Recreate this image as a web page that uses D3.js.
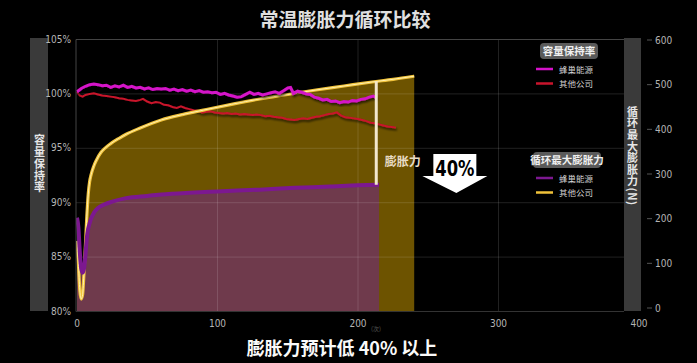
<!DOCTYPE html>
<html><head><meta charset="utf-8">
<script src="https://cdn.jsdelivr.net/npm/d3@7"></script>
<style>
html,body{margin:0;padding:0;background:#000;}
svg{display:block;}
.tick-l{font-family:"Liberation Sans Narrow","DejaVu Sans Condensed",sans-serif;font-size:10px;fill:#b5b5b5;}
.cjk{font-family:"Noto Sans CJK SC","Noto Sans",sans-serif;}
.vert{writing-mode:vertical-rl;}
</style></head>
<body>
<script>
// ---------------- DATA ----------------
const xTicks = [0, 100, 200, 300, 400];
const leftTicks = [80, 85, 90, 95, 100, 105];
const rightTicks = [0, 100, 200, 300, 400, 500, 600];
const seriesNames = ["蜂巢能源", "其他公司"];

// Capacity retention (%) – 蜂巢能源
const retCyclesA = [0,3,6,9,12,15,18,21,24,27,30,33,36,39,42,45,48,51,54,57,60,63,66,69,72,75,78,81,84,87,90,93,96,99,102,105,108,111,114,117,120,123,126,129,132,135,138,141,144,147,150,152,154,157,160,163,166,169,172,175,178,181,184,187,190,193,196,199,202,205,208,211,213];
const retA = [100.2,100.5,100.7,100.85,100.9,100.85,100.75,100.8,100.6,100.75,100.65,100.8,100.6,100.7,100.55,100.6,100.45,100.55,100.4,100.5,100.45,100.5,100.35,100.45,100.3,100.4,100.25,100.35,100.2,100.3,100.15,100.2,100.1,100.15,99.95,100.05,99.9,99.8,99.7,99.75,99.95,100.15,99.95,100.05,99.9,100.0,100.1,100.2,100.05,100.3,100.55,100.6,100.05,100.25,100.15,100.0,99.95,99.7,99.6,99.45,99.5,99.3,99.35,99.2,99.3,99.25,99.4,99.35,99.5,99.55,99.7,99.8,99.65];

// Capacity retention (%) – 其他公司
const retCyclesB = [0,2,4,6,9,12,15,18,21,24,27,30,33,36,39,42,45,47,50,53,56,59,62,65,68,71,74,77,80,83,86,89,92,95,98,101,104,107,110,113,116,119,122,125,128,131,134,137,140,143,146,149,152,155,158,161,164,167,170,173,176,179,182,185,188,191,194,197,200,203,206,209,212,215,218,221,224,227];
const retB = [100.2,99.85,99.75,99.9,100.0,100.05,99.95,99.85,99.8,99.75,99.7,99.6,99.55,99.45,99.4,99.35,99.45,99.55,99.3,99.15,99.25,99.2,99.0,98.95,98.8,98.7,98.85,98.7,98.6,98.5,98.45,98.3,98.35,98.4,98.3,98.25,98.2,98.25,98.15,98.2,98.1,98.15,98.1,98.05,98.1,98.05,97.95,98.0,97.9,97.85,97.8,97.7,97.65,97.6,97.7,97.75,97.7,97.8,97.9,97.95,98.05,98.15,98.2,98.3,98.0,97.85,97.8,97.75,97.7,97.6,97.5,97.35,97.3,97.2,97.1,97.0,96.95,96.9];

// Max swelling force (N) – 蜂巢能源
const forceCyclesA = [0,1,2,3,4,5,6,7,8,9,10,12,15,19,25,35,50,60,80,100,130,155,180,200,215];
const forceA = [202,180,125,88,79,88,118,158,178,190,200,213,224,231,238,246,251,254,258,261,265,269,272,275,276];

// Max swelling force (N) – 其他公司
const forceCyclesB = [0,1,2,3,4,5,6,7,8,9,10,12,14,17,20,24,30,35,45,60,75,90,110,130,150,170,190,210,225,240];
const forceB = [150,100,40,20,30,80,140,205,255,283,298,318,332,348,358,368,380,389,403,421,433,443,456,468,478,488,497,506,512,519];

// annotation
const markCycle = 213, markTop = 507, markBottom = 276;
const arrowLabel = "40%";

// ---------------- CHART ----------------
const W = 697, H = 363;
const L = 76, R = 624, T = 39.5, B = 311.5;
const svg = d3.select("body").append("svg").attr("width", W).attr("height", H);
svg.append("rect").attr("width", W).attr("height", H).attr("fill", "#000");

const x = d3.scaleLinear().domain([0, 400]).range([77, 639]);
const yL = d3.scaleLinear().domain([80, 105]).range([B, T]);
const yR = d3.scaleLinear().domain([0, 600]).range([308, 40]);

const defs = svg.append("defs");
defs.append("clipPath").attr("id", "plot").append("rect")
  .attr("x", L).attr("y", T).attr("width", R - L).attr("height", B - T);
const g1 = defs.append("linearGradient").attr("id", "lg1");
g1.append("stop").attr("offset", "0").attr("stop-color", "#888").attr("stop-opacity", 0);
g1.append("stop").attr("offset", "0.3").attr("stop-color", "#aaa").attr("stop-opacity", 0.9);
g1.append("stop").attr("offset", "1").attr("stop-color", "#ddd").attr("stop-opacity", 1);
const g2 = defs.append("linearGradient").attr("id", "lg2");
g2.append("stop").attr("offset", "0").attr("stop-color", "#ddd").attr("stop-opacity", 1);
g2.append("stop").attr("offset", "0.7").attr("stop-color", "#aaa").attr("stop-opacity", 0.9);
g2.append("stop").attr("offset", "1").attr("stop-color", "#888").attr("stop-opacity", 0);
const sh = defs.append("filter").attr("id", "shadow").attr("x", "-5%").attr("y", "-20%").attr("width", "110%").attr("height", "140%");
sh.append("feDropShadow").attr("dx", 1).attr("dy", 2).attr("stdDeviation", 1).attr("flood-color", "#000").attr("flood-opacity", 0.7);

// title
svg.append("line").attr("x1", 38).attr("x2", 247).attr("y1", 20).attr("y2", 20)
  .attr("stroke", "url(#lg1)").attr("stroke-width", 3);
svg.append("line").attr("x1", 442).attr("x2", 655).attr("y1", 20).attr("y2", 20)
  .attr("stroke", "url(#lg2)").attr("stroke-width", 3);
svg.append("text").attr("class", "cjk").attr("x", 345).attr("y", 27)
  .attr("text-anchor", "middle").attr("font-size", 19).attr("font-weight", 700)
  .attr("fill", "#e0e0e0").text("常温膨胀力循环比较");

// plot group
const p = svg.append("g").attr("clip-path", "url(#plot)");

const areaB = d3.area().x((d, i) => x(forceCyclesB[i])).y0(B).y1(d => yR(d)).curve(d3.curveMonotoneX);
const areaA = d3.area().x((d, i) => x(forceCyclesA[i])).y0(B).y1(d => yR(d)).curve(d3.curveMonotoneX);
p.append("path").datum(forceB).attr("d", areaB).attr("fill", "#6d5300");
p.append("path").datum(forceA).attr("d", areaA).attr("fill", "#6f3a4c");

// grid
const grid = p.append("g").attr("stroke", "#fff").attr("stroke-opacity", 0.13).attr("stroke-width", 1);
[85, 90, 95, 100].forEach(v => grid.append("line").attr("x1", L).attr("x2", R).attr("y1", yL(v)).attr("y2", yL(v)));
[100, 200, 300].forEach(v => grid.append("line").attr("x1", x(v)).attr("x2", x(v)).attr("y1", T).attr("y2", B));

// lines
const lineRB = d3.line().x((d, i) => x(retCyclesB[i])).y(d => yL(d));
const lineRA = d3.line().x((d, i) => x(retCyclesA[i])).y(d => yL(d));
const lineFA = d3.line().x((d, i) => x(forceCyclesA[i])).y(d => yR(d)).curve(d3.curveMonotoneX);
const lineFB = d3.line().x((d, i) => x(forceCyclesB[i])).y(d => yR(d)).curve(d3.curveMonotoneX);

p.append("path").datum(retB).attr("d", lineRB).attr("fill", "none")
  .attr("stroke", "#c8142c").attr("stroke-width", 2).attr("filter", "url(#shadow)");
p.append("path").datum(forceB).attr("d", lineFB).attr("fill", "none")
  .attr("stroke", "#f0c23a").attr("stroke-width", 3.2);
p.append("path").datum(forceB).attr("d", lineFB).attr("fill", "none")
  .attr("stroke", "#fff0b0").attr("stroke-width", 1);
p.append("path").datum(forceA).attr("d", lineFA).attr("fill", "none")
  .attr("stroke", "#7c1890").attr("stroke-width", 4);
p.append("path").datum(retA).attr("d", lineRA).attr("fill", "none")
  .attr("stroke", "#d412c8").attr("stroke-width", 3).attr("filter", "url(#shadow)");

// marker line
p.append("line").attr("x1", x(markCycle)).attr("x2", x(markCycle))
  .attr("y1", yR(markTop)).attr("y2", yR(markBottom))
  .attr("stroke", "#f2e6cc").attr("stroke-width", 3);

// borders
svg.append("line").attr("x1", L).attr("x2", R).attr("y1", T).attr("y2", T).attr("stroke", "#444");
svg.append("line").attr("x1", L).attr("x2", R).attr("y1", B).attr("y2", B).attr("stroke", "#333");
svg.append("line").attr("x1", L).attr("x2", L).attr("y1", T).attr("y2", B).attr("stroke", "#444");

// side bands
svg.append("rect").attr("x", 30).attr("y", 38).attr("width", 18).attr("height", 273).attr("fill", "#3a3a3a");
svg.append("rect").attr("x", 624).attr("y", 38).attr("width", 17).attr("height", 273).attr("fill", "#3a3a3a");

// axis tick labels
svg.selectAll(".tl").data(leftTicks).enter().append("text").attr("class", "tick-l")
  .attr("x", 71).attr("y", d => yL(d) + 3).attr("text-anchor", "end")
  .attr("font-size", 9.5).text(d => d + "%");
svg.selectAll(".tr").data(rightTicks).enter().append("text").attr("class", "tick-l")
  .attr("x", 655).attr("y", d => yR(d) + 3.5).attr("text-anchor", "start").text(d => d);
svg.selectAll(".trm").data(rightTicks).enter().append("line")
  .attr("x1", 647).attr("x2", 652).attr("y1", d => yR(d)).attr("y2", d => yR(d))
  .attr("stroke", "#555");
svg.selectAll(".tb").data(xTicks).enter().append("text").attr("class", "tick-l")
  .attr("x", d => x(d)).attr("y", 327).attr("text-anchor", "middle").text(d => d);

// vertical axis titles (single vertical text each)
svg.append("text").attr("class", "cjk vert")
  .attr("x", 39.5).attr("y", 164).attr("text-anchor", "middle")
  .attr("font-size", 11).attr("font-weight", 700).attr("letter-spacing", 0.8)
  .attr("fill", "#e6e6e6").text("容量保持率");
svg.append("text").attr("class", "cjk vert")
  .attr("x", 632.5).attr("y", 156).attr("text-anchor", "middle")
  .attr("font-size", 11).attr("font-weight", 700).attr("letter-spacing", 0.6)
  .attr("fill", "#e6e6e6").text("循环最大膨胀力(N)");

// legends
function legend(title, bx, by, bw, colors) {
  svg.append("rect").attr("x", bx).attr("y", by).attr("width", bw).attr("height", 16)
    .attr("rx", 4).attr("fill", "#5a5a5a");
  svg.append("text").attr("class", "cjk").attr("x", bx + bw / 2).attr("y", by + 12)
    .attr("text-anchor", "middle").attr("font-size", 10.5).attr("font-weight", 700)
    .attr("fill", "#f0f0f0").text(title);
  colors.forEach((c, i) => {
    const yy = by + 26 + i * 14.5;
    svg.append("line").attr("x1", 536).attr("x2", 553).attr("y1", yy).attr("y2", yy)
      .attr("stroke", c).attr("stroke-width", 2.5);
    svg.append("text").attr("class", "cjk").attr("x", 559).attr("y", yy + 3.5)
      .attr("font-size", 8.5).attr("fill", "#cfcfcf").text(seriesNames[i]);
  });
}
legend("容量保持率", 540, 43, 58, ["#d412c8", "#c8142c"]);
legend("循环最大膨胀力", 533, 152, 68, ["#7c1890", "#f0c23a"]);

// annotation label and arrow
svg.append("text").attr("class", "cjk").attr("x", x(219)).attr("y", 166)
  .attr("font-size", 12).attr("font-weight", 700).attr("fill", "#e8dcc4").text("膨胀力");
const ax = x(270);
svg.append("path")
  .attr("d", `M${ax - 23},154 L${ax + 20},154 L${ax + 20},176 L${ax + 31},176 L${ax},193 L${ax - 34},176 L${ax - 23},176 Z`)
  .attr("fill", "#fff");
svg.append("text").attr("transform", `translate(${ax - 1.5},176) scale(0.78,1)`).attr("text-anchor", "middle")
  .attr("font-family", "DejaVu Sans, sans-serif")
  .attr("font-size", 21).attr("font-weight", 700).attr("fill", "#000").text(arrowLabel);

// faint x-axis unit and bottom caption
svg.append("text").attr("class", "cjk").attr("x", 376).attr("y", 331).attr("text-anchor", "middle")
  .attr("font-size", 6).attr("fill", "#555").text("(次)");
svg.append("text").attr("class", "cjk").attr("x", 342).attr("y", 355).attr("text-anchor", "middle")
  .attr("font-size", 18).attr("font-weight", 700).attr("fill", "#fafafa").text("膨胀力预计低 40% 以上");
</script>
</body></html>
